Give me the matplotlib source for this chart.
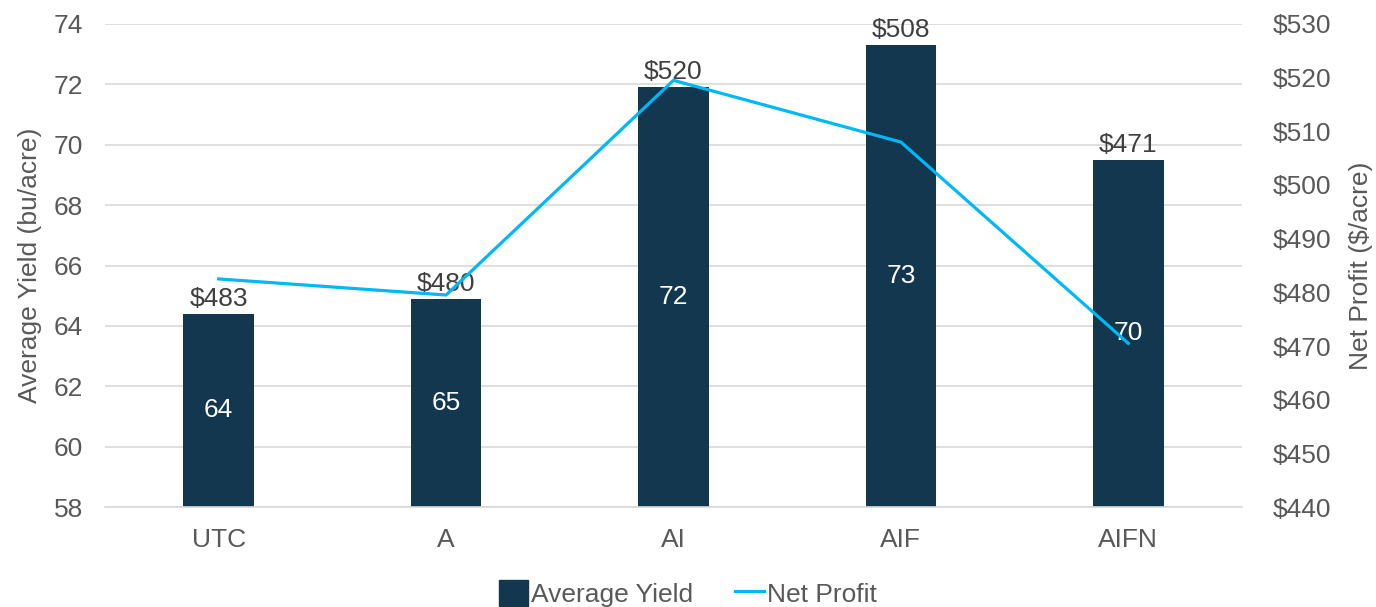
import numpy as np
import matplotlib.pyplot as plt
from matplotlib.patches import Patch
from matplotlib.lines import Line2D

plt.rcParams['font.family'] = ['Liberation Sans', 'DejaVu Sans']

categories = ['UTC', 'A', 'AI', 'AIF', 'AIFN']
avg_yield = [64.4, 64.9, 71.9, 73.3, 69.5]
net_profit = [482.5, 479.5, 519.5, 508.0, 470.5]
yield_labels = ['64', '65', '72', '73', '70']
profit_labels = ['$483', '$480', '$520', '$508', '$471']

bar_color = '#12374F'
line_color = '#00B8F5'
text_color = '#595959'
grid_color = '#D9D9D9'
fs = 19

fig = plt.figure(figsize=(13.76, 6.07), dpi=100)
ax = fig.add_axes([0.0763, 0.1647, 0.8263, 0.7958])
ax2 = ax.twinx()

x = np.arange(len(categories))
bars = ax.bar(x, avg_yield, width=0.31, color=bar_color, zorder=2)
ax2.plot(x, net_profit, color=line_color, lw=2.3, zorder=3)

ax.set_xlim(-0.5, len(categories) - 0.5)
ax.set_ylim(58, 74)
ax.set_yticks(range(58, 75, 2))
ax2.set_ylim(440, 530)
ax2.set_yticks(range(440, 531, 10))
ax2.set_yticklabels(['${}'.format(v) for v in range(440, 531, 10)])

ax.yaxis.grid(True, color=grid_color, lw=1.2, zorder=0)
ax.set_axisbelow(True)
for a in (ax, ax2):
	for s in a.spines.values():
		s.set_visible(False)
	a.tick_params(length=0, labelsize=fs, colors=text_color)
ax.spines['bottom'].set_visible(True)
ax.spines['bottom'].set_color(grid_color)
ax.spines['bottom'].set_linewidth(1.2)

ax.set_xticks(x)
ax.set_xticklabels(categories)
ax.tick_params(axis='x', pad=15)
ax.tick_params(axis='y', pad=16)
ax2.tick_params(axis='y', pad=22)

ax.set_ylabel('Average Yield (bu/acre)', fontsize=fs, color=text_color, labelpad=8)
ax2.set_ylabel('Net Profit ($/acre)', fontsize=fs, color=text_color, labelpad=13)

# value labels: yield inside the bar, profit above the bar top
for xi, h, yl, pl in zip(x, avg_yield, yield_labels, profit_labels):
	ax.text(xi, (58 + h) / 2, yl, ha='center', va='center', color='white', fontsize=fs, zorder=4)
	ax.text(xi, h + 0.1, pl, ha='center', va='bottom', color='#404040', fontsize=fs, zorder=4)

handles = [Patch(color=bar_color), Line2D([0], [0], color=line_color, lw=2.3)]
fig.legend(handles, ['Average Yield', 'Net Profit'], loc='center', bbox_to_anchor=(0.5, 0.022),
	ncol=2, frameon=False, fontsize=fs, labelcolor=text_color, handlelength=1.1, handleheight=1.1,
	handletextpad=0.1, columnspacing=1.6)

fig.savefig('out.png', dpi=100)
